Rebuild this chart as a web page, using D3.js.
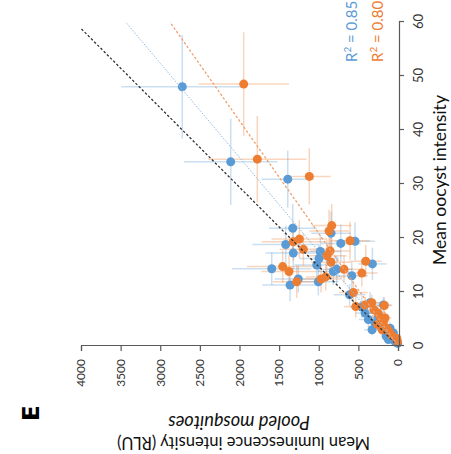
<!DOCTYPE html>
<html><head><meta charset="utf-8">
<script src="https://cdn.jsdelivr.net/npm/d3@7"></script>
<style>body{margin:0;background:#fff}svg{display:block}</style>
</head><body>
<svg id="chart" width="451" height="454"></svg>
<script>
// Data: [mean oocyst intensity, mean luminescence (RLU), oocyst error, RLU error]
const blueSeries = [
  [48.0,2722,9.6,770],[34.1,2111,8.0,590],[30.9,1391,5.3,330],[21.8,1328,4.5,300],
  [18.8,1417,3.5,420],[17.2,1321,3.0,350],[14.3,1593,3.0,500],[11.3,1362,3.0,350],
  [12.4,1258,2.5,300],[17.5,980,3.0,250],[16.2,996,2.5,250],[15.0,1025,2.5,280],
  [11.9,1005,2.5,250],[20.9,845,4.0,250],[13.8,816,2.5,200],[14.2,773,2.5,200],
  [19.0,722,3.5,250],[19.4,542,3.5,250],[13.0,583,2.5,200],[15.2,323,3.0,180],
  [9.5,611,2.0,200],[8.0,352,2.0,150],[7.6,184,1.5,100],[7.2,457,2.0,150],
  [4.9,374,1.5,120],[4.2,289,1.5,100],[3.6,205,1.2,80],[1.2,121,0.5,50],
  [0.8,37,0.4,20],[0.5,5,0.3,10],[2.4,58,0.8,40],[1.85,150,0.6,50],
  [5.2,251,1.5,100],[6.1,415,1.5,120],[3.0,327,1.0,100],[3.3,100,1.0,50]
];
const orangeSeries = [
  [48.5,1947,9.6,570],[34.6,1775,8.0,620],[31.4,1119,5.2,270],[22.3,836,4.0,250],
  [21.3,870,4.0,250],[19.8,1245,3.5,350],[19.3,1321,3.5,400],[17.9,1194,3.0,300],
  [17.6,857,3.0,250],[16.7,899,3.0,250],[15.5,845,3.0,250],[14.7,1455,3.0,450],
  [13.8,1375,3.0,350],[11.9,1278,3.0,300],[12.4,971,2.5,250],[12.8,912,2.5,250],
  [14.2,681,2.5,200],[19.5,605,3.5,250],[15.7,407,3.0,200],[13.5,457,2.5,200],
  [9.9,563,2.0,180],[7.3,533,2.0,150],[7.5,172,1.5,100],[8.0,331,1.5,120],
  [5.4,226,1.2,100],[4.5,184,1.0,80],[3.3,141,0.8,60],[2.6,109,0.8,50],
  [2.0,78,0.6,40],[1.4,15,0.5,20],[0.8,5,0.3,10],[6.7,302,1.5,100],
  [6.1,251,1.5,100],[5.2,163,1.2,80],[7.6,415,1.5,120],[4.0,260,1.0,80],[3.0,200,1.0,60]
];
// trend lines: [[x0,y0],[x1,y1]]
const lineAll = [[0,0],[58.8,4000]];
const lineBlue = [[0,0],[60,3437]];
const lineOrange = [[0,0],[60,2878]];
const xTicks = [0,10,20,30,40,50,60];
const yTicks = [0,500,1000,1500,2000,2500,3000,3500,4000];
const r2Labels = [["0.85","#5B9BD5"],["0.80","#ED7D31"]];

const BLUE="#5B9BD5", ORANGE="#ED7D31";
const svg = d3.select("#chart");
// whole figure drawn in its upright frame (454 wide x 451 tall), then turned 90° counter-clockwise
const g = svg.append("g").attr("transform","translate(0,454) rotate(-90)");

const x = d3.scaleLinear().domain([0,60]).range([108,432]);
const y = d3.scaleLinear().domain([0,4000]).range([398,81]);

function errBars(data,color){
  const eg = g.append("g").attr("stroke",color).attr("stroke-opacity",0.32).attr("stroke-width",1.5);
  data.forEach(d=>{
    eg.append("line").attr("x1",x(d[0]-d[2])).attr("x2",x(d[0]+d[2])).attr("y1",y(d[1])).attr("y2",y(d[1]));
    eg.append("line").attr("x1",x(d[0])).attr("x2",x(d[0])).attr("y1",y(Math.max(0,d[1]-d[3]))).attr("y2",y(d[1]+d[3]));
  });
}
errBars(blueSeries,BLUE);
errBars(orangeSeries,ORANGE);

g.append("g").selectAll("circle").data(blueSeries).join("circle")
  .attr("cx",d=>x(d[0])).attr("cy",d=>y(d[1])).attr("r",4.5).attr("fill",BLUE);
g.append("g").selectAll("circle").data(orangeSeries).join("circle")
  .attr("cx",d=>x(d[0])).attr("cy",d=>y(d[1])).attr("r",4.5).attr("fill",ORANGE);

const lineGen = d3.line().x(d=>x(d[0])).y(d=>y(d[1]));
g.append("path").attr("d",lineGen(lineAll)).attr("stroke","#333").attr("stroke-width",1.3).attr("stroke-dasharray","2.5,2").attr("fill","none");
g.append("path").attr("d",lineGen(lineBlue)).attr("stroke","#8DBCE6").attr("stroke-width",1).attr("stroke-dasharray","1.5,1.5").attr("fill","none");
g.append("path").attr("d",lineGen(lineOrange)).attr("stroke","#F0A070").attr("stroke-width",1.3).attr("stroke-dasharray","2.5,2").attr("fill","none");

const xAxis = g.append("g").attr("transform","translate(0,399)")
  .call(d3.axisBottom(x).tickValues(xTicks).tickSize(5).tickPadding(10).tickFormat(d3.format("d")));
const yAxis = g.append("g").attr("transform","translate(108,0)")
  .call(d3.axisLeft(y).tickValues(yTicks).tickSize(5).tickPadding(8).tickFormat(d3.format("d")));
[xAxis,yAxis].forEach(a=>{
  a.select(".domain").attr("stroke","#595959").attr("stroke-width",1.2);
  a.selectAll(".tick line").attr("stroke","#595959").attr("stroke-width",1.2);
  a.selectAll("text").attr("fill","#333").attr("font-family","Lato, sans-serif");
});
xAxis.selectAll("text").attr("font-size",13);
yAxis.selectAll("text").attr("font-size",12);

function fit(t, target){
  const fs = +t.attr("font-size");
  const w = t.node().getComputedTextLength();
  if (w > 0) t.attr("font-size", fs*target/w);
}

const t1 = g.append("text").attr("x",274).attr("y",446).attr("text-anchor","middle")
  .attr("font-family","Lato, sans-serif").attr("font-size",16).attr("fill","#111").text("Mean oocyst intensity");
fit(t1,170);
const t2 = g.append("text").attr("transform","translate(17,243.5) rotate(-90)").attr("text-anchor","middle")
  .attr("font-family","Lato, sans-serif").attr("font-size",15).attr("fill","#111").text("Mean luminescence intensity (RLU)");
fit(t2,253);
const t3 = g.append("text").attr("transform","translate(38,239) rotate(-90)").attr("text-anchor","middle")
  .attr("font-family","Lato, sans-serif").attr("font-size",15).attr("font-style","italic").attr("fill","#111").text("Pooled mosquitoes");
fit(t3,142);

r2Labels.forEach((d,i)=>{
  const t = g.append("text").attr("x",392).attr("y",357+i*26).attr("font-family","Lato, sans-serif")
    .attr("font-size",15).attr("fill",d[1]);
  t.append("tspan").text("R");
  t.append("tspan").attr("font-size",10).attr("dy",-6).text("2");
  t.append("tspan").attr("dy",6).text(" = "+d[0]);
});

g.append("text").attr("x",33).attr("y",39).attr("font-family","DejaVu Sans, sans-serif")
  .attr("font-size",23).attr("font-weight","bold").attr("fill","#000").text("E");
</script>
</body></html>
